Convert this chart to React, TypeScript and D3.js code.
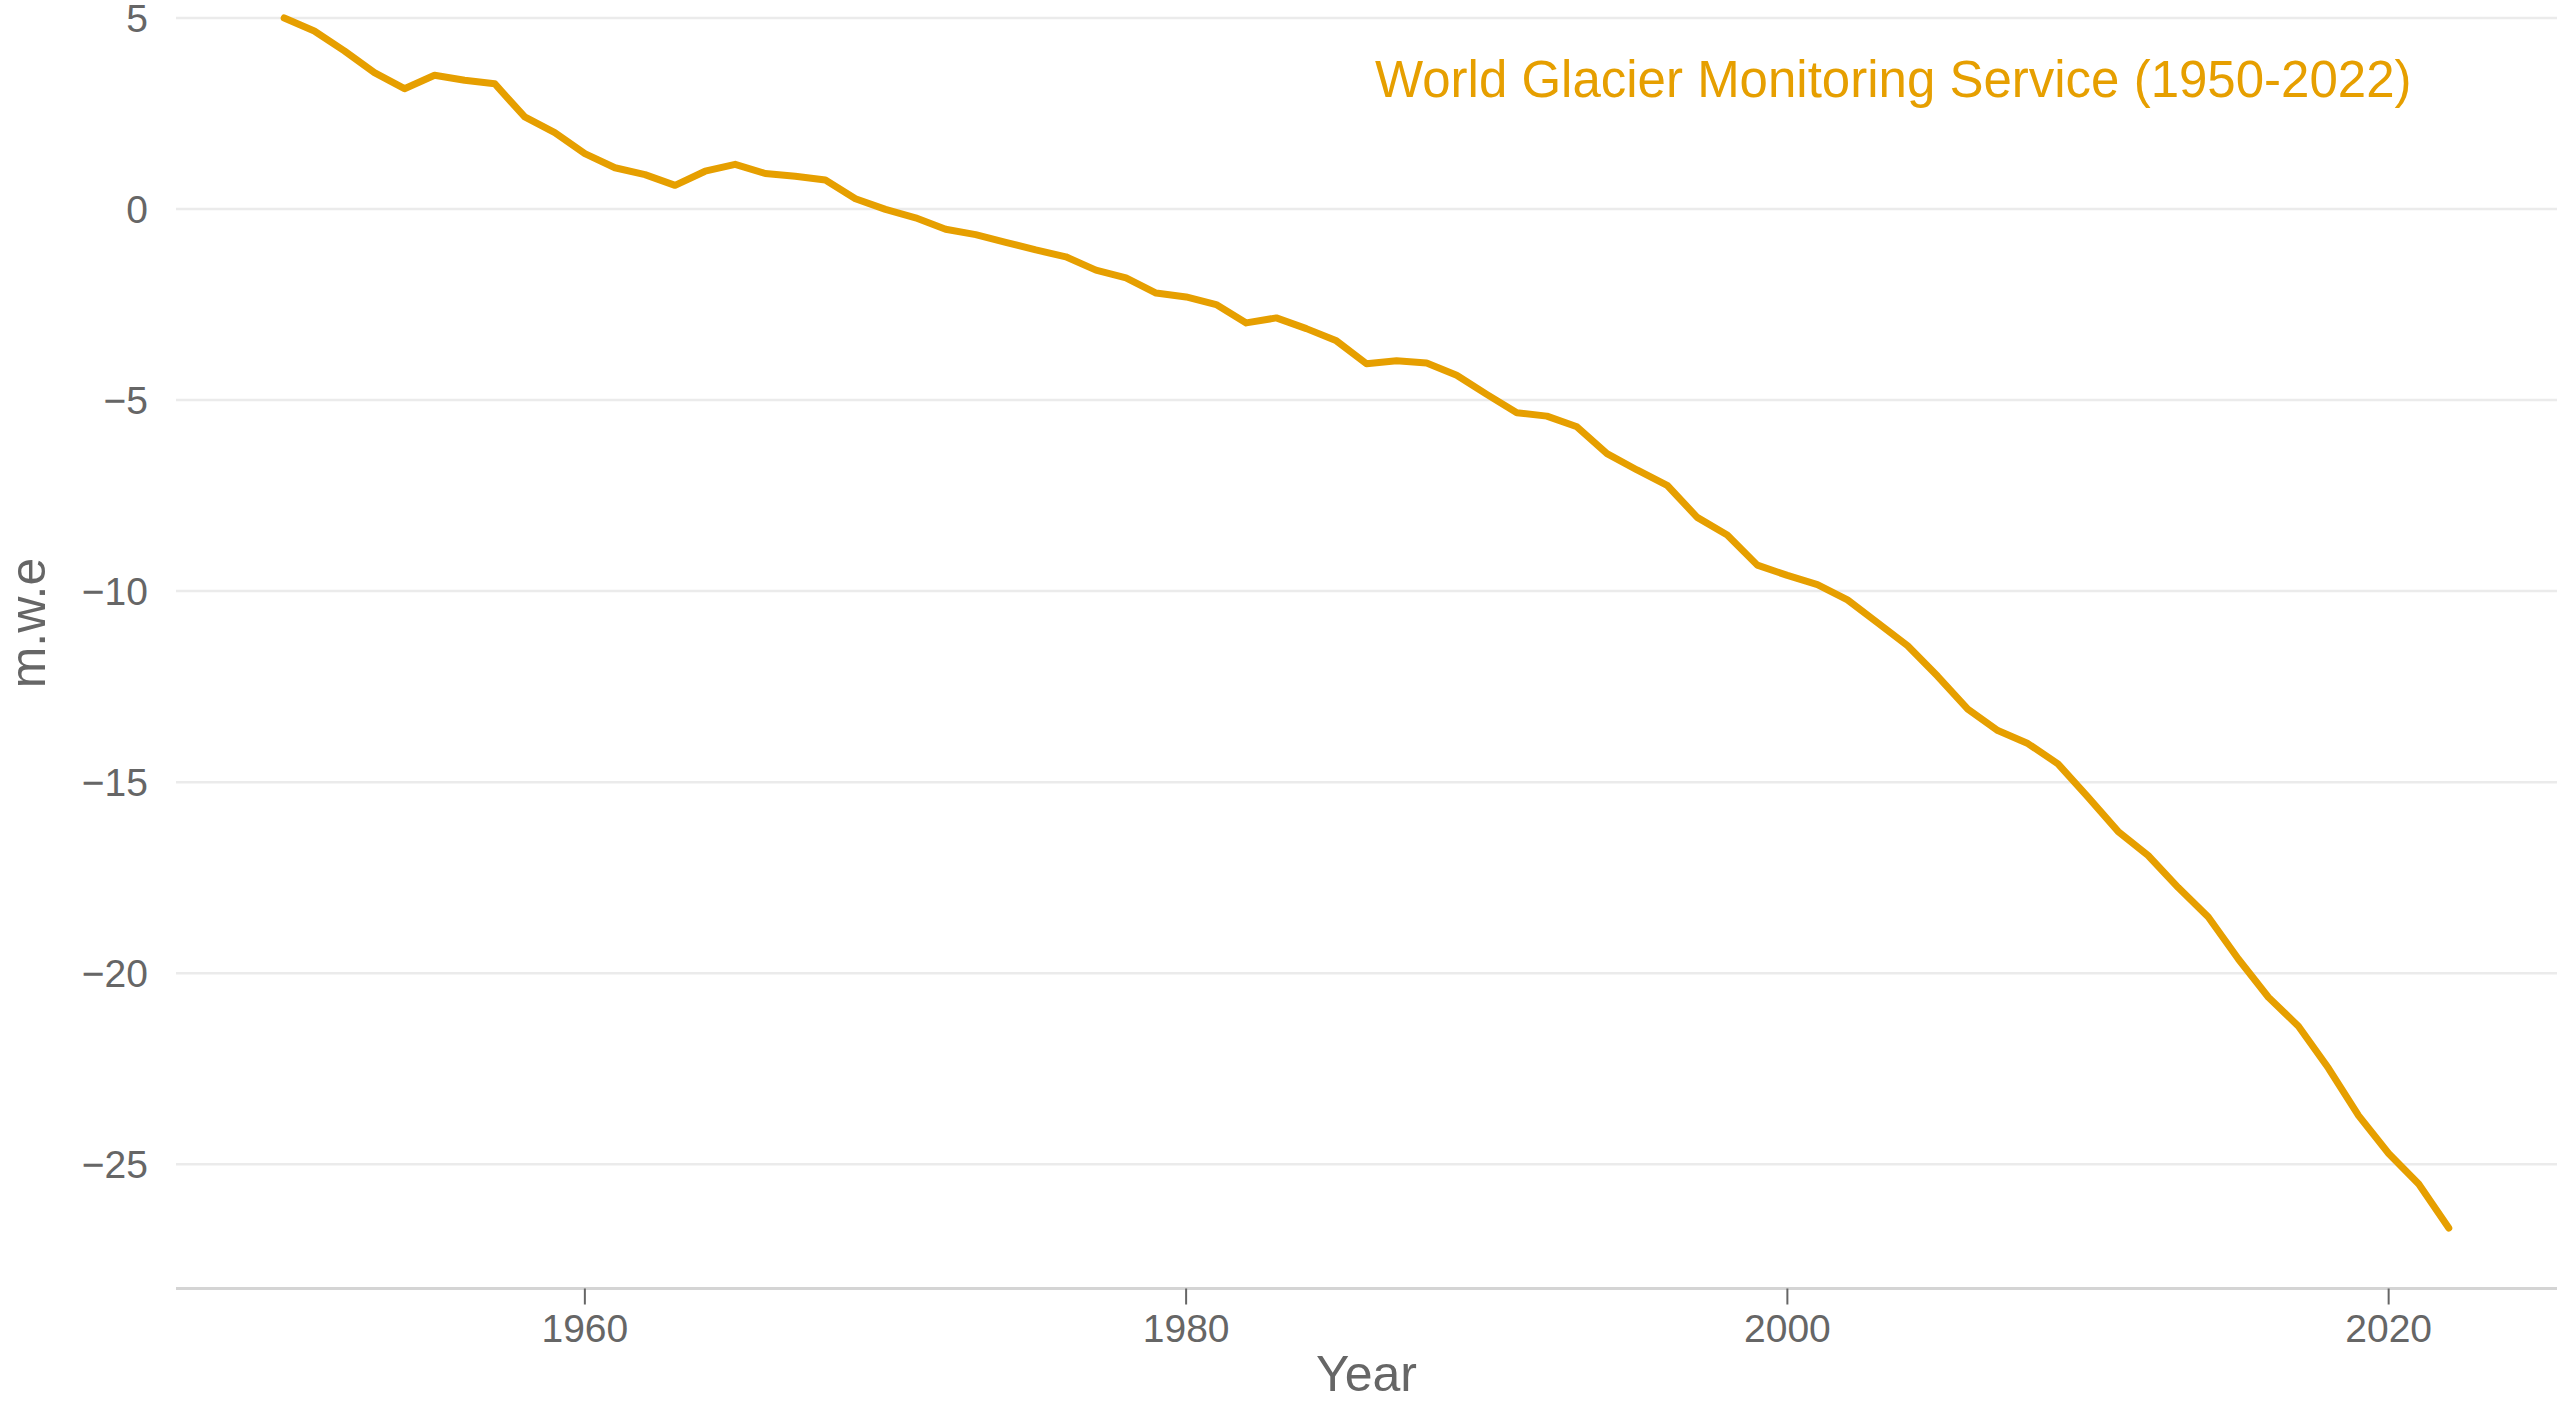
import * as d3 from "d3";

// World Glacier Monitoring Service, cumulative mass balance (m w.e.)
const years = [
  1950, 1951, 1952, 1953, 1954, 1955, 1956, 1957, 1958, 1959,
  1960, 1961, 1962, 1963, 1964, 1965, 1966, 1967, 1968, 1969,
  1970, 1971, 1972, 1973, 1974, 1975, 1976, 1977, 1978, 1979,
  1980, 1981, 1982, 1983, 1984, 1985, 1986, 1987, 1988, 1989,
  1990, 1991, 1992, 1993, 1994, 1995, 1996, 1997, 1998, 1999,
  2000, 2001, 2002, 2003, 2004, 2005, 2006, 2007, 2008, 2009,
  2010, 2011, 2012, 2013, 2014, 2015, 2016, 2017, 2018, 2019,
  2020, 2021, 2022,
];

const mwe = [
  5.0, 4.66, 4.14, 3.57, 3.15, 3.5, 3.37, 3.28, 2.41, 2.0,
  1.45, 1.08, 0.9, 0.62, 0.99, 1.17, 0.93, 0.86, 0.76, 0.27,
  -0.01, -0.23, -0.53, -0.67, -0.87, -1.07, -1.25, -1.6, -1.8, -2.2,
  -2.3, -2.5, -2.98, -2.85, -3.13, -3.45, -4.05, -3.97, -4.03, -4.35,
  -4.85, -5.33, -5.42, -5.7, -6.4, -6.83, -7.23, -8.07, -8.53, -9.32,
  -9.59, -9.83, -10.23, -10.83, -11.43, -12.23, -13.09, -13.65, -13.99, -14.52,
  -15.39, -16.29, -16.92, -17.76, -18.53, -19.63, -20.63, -21.39, -22.49, -23.73,
  -24.72, -25.52, -26.67,
];

const xTicks = [1960, 1980, 2000, 2020];
const yTicks = [5, 0, -5, -10, -15, -20, -25];

const title = "World Glacier Monitoring Service (1950-2022)";

export default function App() {
  const width = 2557;
  const height = 1401;
  const panel = { left: 176, right: 2557, top: -42.5, bottom: 1288.5 };
  const font = "'Liberation Sans', Arial, sans-serif";
  const textColor = "#666666";
  const orange = "#E69F00";

  const data = years.map((y, i) => ({ year: y, value: mwe[i] }));

  // ggplot-style 5% expansion of the data range
  const xExt = d3.extent(years) as [number, number];
  const xPad = (xExt[1] - xExt[0]) * 0.05;
  const x = d3
    .scaleLinear()
    .domain([xExt[0] - xPad, xExt[1] + xPad])
    .range([panel.left, panel.right]);

  const yExt = d3.extent(mwe) as [number, number];
  const yPad = (yExt[1] - yExt[0]) * 0.05;
  const y = d3
    .scaleLinear()
    .domain([yExt[0] - yPad, yExt[1] + yPad])
    .range([panel.bottom, panel.top]);

  const line = d3
    .line<{ year: number; value: number }>()
    .x((d) => x(d.year))
    .y((d) => y(d.value));

  const fmt = (v: number) => (v < 0 ? "\u2212" + Math.abs(v) : String(v));

  return (
    <svg
      width={width}
      height={height}
      style={{ position: "absolute", left: 0, top: 0, background: "#fff" }}
      fontFamily={font}
    >
      {/* horizontal grid */}
      {yTicks.map((t) => (
        <line
          key={t}
          x1={panel.left}
          x2={panel.right}
          y1={y(t)}
          y2={y(t)}
          stroke="#ebebeb"
          strokeWidth={2.5}
        />
      ))}

      {/* y tick labels */}
      {yTicks.map((t) => (
        <text
          key={"yl" + t}
          x={148}
          y={y(t)}
          textAnchor="end"
          dominantBaseline="central"
          fontSize={39}
          fill={textColor}
        >
          {fmt(t)}
        </text>
      ))}

      {/* x axis */}
      <line
        x1={panel.left}
        x2={panel.right}
        y1={panel.bottom}
        y2={panel.bottom}
        stroke="#d4d4d4"
        strokeWidth={3}
      />
      {xTicks.map((t) => (
        <g key={"xt" + t} transform={`translate(${x(t)},0)`}>
          <line y1={panel.bottom} y2={panel.bottom + 16} stroke="#666" strokeWidth={2} />
          <text y={1342} textAnchor="middle" fontSize={39} fill={textColor}>
            {t}
          </text>
        </g>
      ))}

      {/* series */}
      <path
        d={line(data) ?? ""}
        fill="none"
        stroke={orange}
        strokeWidth={7}
        strokeLinejoin="round"
        strokeLinecap="round"
      />

      {/* annotation */}
      <text x={1375} y={97} fontSize={51} fill={orange}>
        {title}
      </text>

      {/* axis titles */}
      <text
        x={(panel.left + panel.right) / 2}
        y={1391}
        textAnchor="middle"
        fontSize={50}
        fill={textColor}
      >
        Year
      </text>
      <text
        transform={`translate(45,${(panel.top + panel.bottom) / 2}) rotate(-90)`}
        textAnchor="middle"
        fontSize={50}
        fill={textColor}
      >
        m.w.e
      </text>
    </svg>
  );
}
